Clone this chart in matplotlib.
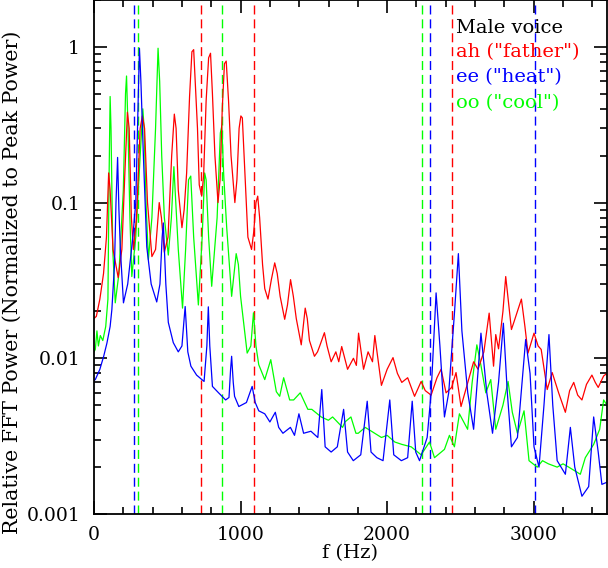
import numpy as np
import matplotlib
matplotlib.use("Agg")
import matplotlib.pyplot as plt
from matplotlib.ticker import FixedLocator, LogLocator, NullFormatter, MultipleLocator

plt.rcParams['font.family'] = ['DejaVu Serif']

# "ah" (father), red
ah_f = [0, 16, 40, 65, 85, 100, 110, 130, 165, 190, 210, 228, 240, 255, 269, 290, 315, 330,
        345, 365, 395, 420, 445, 460, 480, 505, 530, 548, 560, 575, 600, 615, 632, 652, 668,
        680, 695, 706, 718, 735, 748, 765, 782, 795, 808, 825, 846, 860, 875, 890, 902, 918,
        935, 961, 975, 990, 1002, 1012, 1030, 1050, 1075, 1090, 1105, 1117, 1130, 1150, 1165,
        1187, 1210, 1233, 1250, 1270, 1301, 1320, 1341, 1360, 1380, 1414, 1441, 1455, 1470,
        1504, 1525, 1540, 1572, 1590, 1618, 1650, 1670, 1690, 1730, 1770, 1790, 1805, 1839,
        1870, 1900, 1916, 1961, 2000, 2040, 2070, 2100, 2140, 2187, 2232, 2260, 2300, 2340,
        2368, 2402, 2440, 2470, 2504, 2550, 2590, 2620, 2660, 2696, 2726, 2741, 2760, 2790,
        2809, 2848, 2866, 2916, 2940, 2961, 3002, 3030, 3051, 3092, 3126, 3170, 3216, 3245,
        3273, 3300, 3329, 3360, 3397, 3420, 3440, 3477, 3500]
ah_p = [0.018, 0.0186, 0.024, 0.035, 0.06, 0.155, 0.12, 0.05, 0.033, 0.05, 0.15, 0.38, 0.3,
        0.08, 0.05, 0.08, 0.3, 0.36, 0.3, 0.1, 0.045, 0.05, 0.1, 0.08, 0.048, 0.06, 0.2, 0.37,
        0.3, 0.12, 0.069, 0.09, 0.155, 0.48, 0.93, 0.96, 0.5, 0.3, 0.13, 0.11, 0.15, 0.45,
        0.85, 0.91, 0.5, 0.2, 0.10, 0.14, 0.4, 0.78, 0.81, 0.45, 0.2, 0.10, 0.14, 0.3, 0.36,
        0.35, 0.15, 0.06, 0.05, 0.065, 0.1, 0.11, 0.08, 0.04, 0.028, 0.024, 0.032, 0.041,
        0.035, 0.025, 0.0178, 0.022, 0.032, 0.025, 0.018, 0.0122, 0.021, 0.018, 0.013, 0.0103,
        0.011, 0.012, 0.0146, 0.012, 0.0095, 0.011, 0.0095, 0.0119, 0.0085, 0.01, 0.009,
        0.0145, 0.0085, 0.011, 0.0095, 0.014, 0.0067, 0.0085, 0.0101, 0.008, 0.007, 0.0075,
        0.0057, 0.0071, 0.0062, 0.0058, 0.0075, 0.0085, 0.006, 0.0065, 0.0081, 0.0049, 0.007,
        0.0095, 0.0085, 0.011, 0.0195, 0.0089, 0.0142, 0.0115, 0.02, 0.0335, 0.0153, 0.0172,
        0.024, 0.016, 0.0108, 0.0145, 0.012, 0.0114, 0.0063, 0.0081, 0.006, 0.0045, 0.0062,
        0.007, 0.0058, 0.0054, 0.0068, 0.0078, 0.007, 0.0065, 0.0077, 0.008]

# "ee" (heat), blue
ee_f = [0, 9, 40, 66, 88, 110, 122, 140, 150, 161, 170, 180, 201, 230, 265, 285, 300, 310,
        320, 337, 360, 390, 428, 450, 465, 473, 490, 507, 541, 575, 600, 615, 622, 630, 640,
        661, 700, 751, 770, 780, 790, 808, 850, 898, 921, 932, 939, 950, 959, 988, 1040, 1079,
        1100, 1124, 1165, 1200, 1237, 1260, 1289, 1340, 1368, 1398, 1430, 1480, 1527, 1554,
        1577, 1618, 1660, 1703, 1730, 1769, 1820, 1864, 1890, 1930, 1972, 2018, 2045, 2097,
        2140, 2171, 2195, 2221, 2273, 2300, 2334, 2360, 2391, 2420, 2460, 2486, 2510, 2550,
        2590, 2640, 2680, 2719, 2760, 2793, 2820, 2848, 2889, 2945, 2975, 3002, 3036, 3070,
        3104, 3130, 3160, 3216, 3250, 3280, 3329, 3375, 3409, 3440, 3465, 3500]
ee_p = [0.0072, 0.0073, 0.0085, 0.0103, 0.0125, 0.016, 0.0206, 0.04, 0.1, 0.195, 0.09, 0.05,
        0.0227, 0.03, 0.06, 0.1, 0.4, 0.98, 0.6, 0.2, 0.052, 0.03, 0.023, 0.03, 0.06, 0.074,
        0.03, 0.017, 0.0126, 0.011, 0.012, 0.018, 0.0215, 0.016, 0.011, 0.0089, 0.0078,
        0.0071, 0.012, 0.0214, 0.012, 0.0066, 0.006, 0.0054, 0.0056, 0.0085, 0.0103, 0.007,
        0.0057, 0.0049, 0.0052, 0.0066, 0.0052, 0.0046, 0.0044, 0.0039, 0.0045, 0.0036,
        0.0033, 0.0036, 0.0032, 0.0044, 0.0033, 0.0034, 0.0031, 0.0063, 0.0027, 0.0025,
        0.0027, 0.0047, 0.0025, 0.0022, 0.0024, 0.0053, 0.0025, 0.0023, 0.0022, 0.0054,
        0.0024, 0.0022, 0.0023, 0.0053, 0.0025, 0.0022, 0.0031, 0.006, 0.0263, 0.012, 0.0042,
        0.006, 0.02, 0.047, 0.015, 0.006, 0.0035, 0.0145, 0.006, 0.0033, 0.007, 0.0168, 0.006,
        0.0027, 0.0031, 0.0132, 0.008, 0.0027, 0.0020, 0.005, 0.0142, 0.005, 0.0022, 0.0018,
        0.0036, 0.002, 0.0013, 0.0015, 0.0042, 0.0025, 0.00155, 0.0016]

# "oo" (cool), green
oo_f = [0, 9, 20, 30, 43, 60, 80, 95, 103, 110, 116, 128, 145, 170, 200, 215, 222, 232, 245,
        258, 285, 315, 333, 342, 355, 371, 395, 420, 437, 448, 462, 480, 507, 528, 545, 558,
        575, 604, 625, 645, 660, 680, 712, 738, 755, 765, 782, 803, 840, 862, 872, 885, 905,
        939, 970, 985, 1000, 1045, 1070, 1088, 1105, 1124, 1165, 1206, 1244, 1267, 1294, 1335,
        1362, 1407, 1459, 1486, 1550, 1599, 1628, 1696, 1712, 1753, 1787, 1803, 1850, 1893,
        1961, 2000, 2052, 2100, 2164, 2232, 2289, 2323, 2391, 2425, 2459, 2493, 2549, 2580,
        2612, 2640, 2673, 2707, 2741, 2790, 2825, 2854, 2889, 2934, 2968, 3024, 3060, 3100,
        3160, 3200, 3239, 3318, 3352, 3409, 3450, 3477, 3500]
oo_p = [0.011, 0.0114, 0.015, 0.012, 0.014, 0.013, 0.016, 0.024, 0.15, 0.48, 0.3, 0.05,
        0.0227, 0.035, 0.12, 0.5, 0.65, 0.3, 0.08, 0.0335, 0.06, 0.2, 0.40, 0.3, 0.1, 0.043,
        0.08, 0.3, 0.98, 0.6, 0.2, 0.08, 0.046, 0.08, 0.17, 0.1, 0.05, 0.021, 0.05, 0.14,
        0.148, 0.06, 0.022, 0.06, 0.155, 0.14, 0.06, 0.029, 0.08, 0.28, 0.31, 0.15, 0.07,
        0.025, 0.047, 0.04, 0.025, 0.0108, 0.012, 0.0196, 0.012, 0.0091, 0.0073, 0.0098,
        0.0061, 0.0057, 0.0075, 0.0054, 0.0054, 0.006, 0.0047, 0.0047, 0.0042, 0.004, 0.0042,
        0.0036, 0.0039, 0.0042, 0.0033, 0.0033, 0.0036, 0.0034, 0.0031, 0.0032, 0.0029,
        0.0028, 0.0027, 0.0024, 0.0029, 0.0023, 0.0026, 0.0032, 0.0027, 0.0044, 0.0035, 0.007,
        0.0122, 0.009, 0.006, 0.0073, 0.0035, 0.005, 0.0071, 0.0045, 0.0033, 0.0046, 0.0022,
        0.002, 0.0022, 0.0021, 0.002, 0.0021, 0.002, 0.0018, 0.0023, 0.0028, 0.0035, 0.0054,
        0.005]

# formant frequencies (Hz)
ah_formants = [730, 1090, 2440]
ee_formants = [270, 2290, 3010]
oo_formants = [300, 870, 2240]

labels = ['ah ("father")', 'ee ("heat")', 'oo ("cool")']
colors = ['#ff0000', '#0000ff', '#00ff00']

fig = plt.figure(figsize=(6.08, 5.68), dpi=100)
ax = fig.add_axes([94 / 608, 54 / 568, 513 / 608, 514 / 568])

for fr, col in zip([ah_formants, ee_formants, oo_formants], colors):
    for f0 in fr:
        ax.axvline(f0, color=col, lw=1.0, dashes=(6.5, 3.5))

ax.plot(oo_f, oo_p, color=colors[2], lw=0.9)
ax.plot(ah_f, ah_p, color=colors[0], lw=0.9)
ax.plot(ee_f, ee_p, color=colors[1], lw=0.9)

ax.set_yscale('log')
ax.set_xlim(0, 3500)
ax.set_ylim(0.001, 2.0)

ax.xaxis.set_major_locator(FixedLocator([0, 1000, 2000, 3000]))
ax.xaxis.set_minor_locator(MultipleLocator(200))
ax.yaxis.set_major_locator(FixedLocator([0.001, 0.01, 0.1, 1]))
ax.yaxis.set_minor_locator(LogLocator(base=10, subs=np.arange(2, 10)))
ax.yaxis.set_minor_formatter(NullFormatter())
ax.set_yticklabels(['0.001', '0.01', '0.1', '1'])
ax.tick_params(which='both', direction='in', top=True, right=True, width=1.2)
ax.tick_params(which='major', length=9.5)
ax.tick_params(which='minor', length=5)
ax.tick_params(axis='x', labelsize=13.5, pad=9)
ax.tick_params(axis='y', labelsize=13.5, pad=10)
for s in ax.spines.values():
    s.set_linewidth(1.3)

ax.set_xlabel('f (Hz)', fontsize=14, labelpad=0)
fig.text(12 / 608, 1 - 282 / 568, 'Relative FFT Power (Normalized to Peak Power)',
         rotation=90, fontsize=14.8, ha='center', va='center')

ax.text(0.706, 0.9455, 'Male voice', transform=ax.transAxes, color='black', fontsize=14, va='center')
for i, (lab, col) in enumerate(zip(labels, colors)):
    ax.text(0.706, 0.899 - 0.0495 * i, lab, transform=ax.transAxes, color=col, fontsize=14, va='center')

fig.savefig('out.png', dpi=100)
